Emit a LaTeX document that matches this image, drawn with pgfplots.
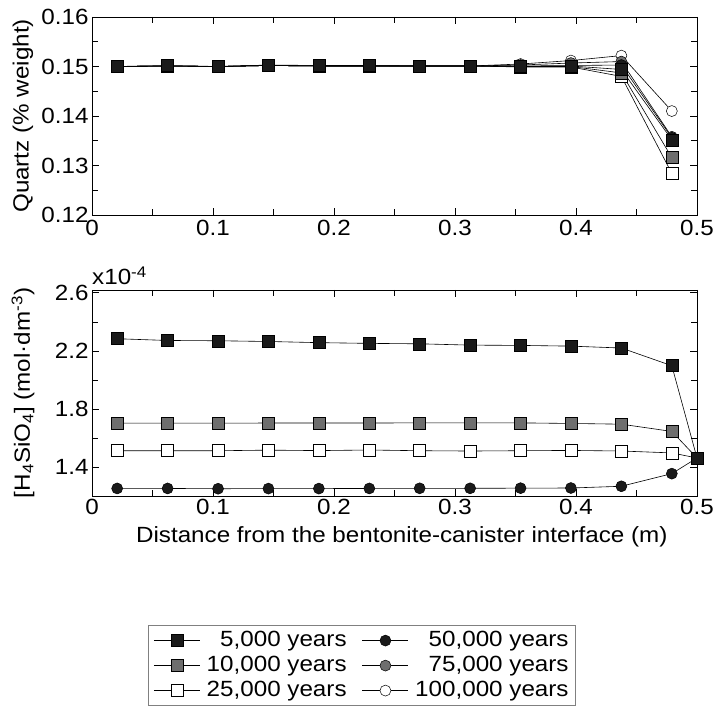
\documentclass[border=0pt]{standalone}
\usepackage{fontspec}
\setmainfont{Liberation Sans}[FakeStretch=1.1]
\usepackage{pgfplots}
\pgfplotsset{compat=1.18}
\usepackage{pgfplotstable}

\definecolor{mkblack}{HTML}{1A1A1A}
\definecolor{mkgray}{HTML}{6E6E6E}
\definecolor{legframe}{HTML}{808080}

\pgfplotstableread{
x      q5     q10    q25    q50    q75    q100
0.0208 0.1500 0.1500 0.1500 0.1500 0.1500 0.1500
0.0625 0.1502 0.1501 0.1501 0.1501 0.1501 0.1501
0.1042 0.1500 0.1500 0.1500 0.1500 0.1500 0.1500
0.1458 0.1503 0.1502 0.1502 0.1502 0.1502 0.1502
0.1875 0.1502 0.1501 0.1501 0.1501 0.1501 0.1501
0.2292 0.1502 0.1501 0.1501 0.1501 0.1501 0.1501
0.2708 0.1501 0.1501 0.1501 0.1501 0.1501 0.1501
0.3125 0.1501 0.1501 0.1501 0.1501 0.1501 0.1501
0.3542 0.1500 0.1500 0.1499 0.1501 0.1503 0.1505
0.3958 0.1501 0.1500 0.1499 0.1502 0.1507 0.1512
0.4375 0.1494 0.1487 0.1480 0.1503 0.1510 0.1522
0.4792 0.1352 0.1316 0.1284 0.1356 0.1358 0.1410
}\quartz

\pgfplotstableread{
x      h5    h10   h25   h50
0.0208 2.284 1.702 1.512 1.252
0.0625 2.272 1.702 1.512 1.252
0.1042 2.270 1.702 1.512 1.250
0.1458 2.265 1.703 1.516 1.251
0.1875 2.257 1.703 1.513 1.251
0.2292 2.252 1.703 1.517 1.252
0.2708 2.249 1.704 1.512 1.253
0.3125 2.240 1.704 1.510 1.253
0.3542 2.238 1.704 1.512 1.254
0.3958 2.233 1.700 1.514 1.255
0.4375 2.220 1.695 1.510 1.267
0.4792 2.098 1.645 1.497 1.354
0.5000 1.462 1.462 1.462 1.462
}\hsio

\tikzset{
  s5/.style={black, line width=0.6pt, mark=square*, mark size=6pt, mark options={fill=mkblack, draw=black, line width=0.5pt, solid}},
  s10/.style={black, line width=0.6pt, mark=square*, mark size=6pt, mark options={fill=mkgray, draw=black, line width=0.5pt, solid}},
  s25/.style={black, line width=0.6pt, mark=square*, mark size=6pt, mark options={fill=white, draw=black, line width=0.5pt, solid}},
  s50/.style={black, line width=0.6pt, mark=*, mark size=5.5pt, mark options={fill=mkblack, draw=black, line width=0.5pt, solid}},
  s75/.style={black, line width=0.6pt, mark=*, mark size=5.5pt, mark options={fill=mkgray, draw=black, line width=0.5pt, solid}},
  s100/.style={black, line width=0.6pt, mark=*, mark size=5.5pt, mark options={fill=white, draw=black, line width=0.5pt, solid}},
}

\pgfplotsset{
  myaxis/.style={
    scale only axis, width=605pt, anchor=south west,
    xmin=0, xmax=0.5,
    xtick={0,0.1,0.2,0.3,0.4,0.5},
    xticklabels={0,0.1,0.2,0.3,0.4,0.5},
    minor x tick num=1, minor y tick num=1,
    tick align=inside,
    major tick length=7pt, minor tick length=6pt,
    axis line style={line width=0.9pt},
    tick style={line width=0.8pt, black},
    clip=false,
    font=\fontsize{22}{26}\selectfont,
    tick label style={font=\fontsize{22}{26}\selectfont},
    label style={font=\fontsize{22}{26}\selectfont},
    /pgf/number format/assume math mode=true,
    ylabel style={at={(axis description cs:-0.114,0.5)}, anchor=center},
  }
}

\begin{document}
\begin{tikzpicture}
\useasboundingbox (0,0) rectangle (716pt,714pt);

% top axis
\begin{axis}[myaxis,
  at={(92pt,499pt)}, height=198pt,
  ymin=0.12, ymax=0.16,
  ytick={0.12,0.13,0.14,0.15,0.16},
  yticklabels={0.12,0.13,0.14,0.15,0.16},
  xticklabel style={yshift=-2pt},
  ylabel={Quartz (\% weight)},
  legend columns=2,
  legend cell align=right,
  legend image code/.code={\draw[mark repeat=2,mark phase=2,#1] plot coordinates {(0pt,0pt) (23pt,0pt) (46pt,0pt)};},
  legend style={at={(axis description cs:0.0926,-2.0707)}, anchor=north west,
    draw=legframe, line width=1.2pt, inner xsep=5pt, inner ysep=3pt,
    font=\fontsize{22}{26}\selectfont,
    nodes={inner sep=1.5pt, text height=16pt, text depth=5pt},
    column sep=5pt, row sep=1pt,
    /tikz/column 2/.style={column sep=14pt}},
]
\addplot[s100, forget plot] table[x=x, y=q100] {\quartz};
\addplot[s75, forget plot] table[x=x, y=q75] {\quartz};
\addplot[s50, forget plot] table[x=x, y=q50] {\quartz};
\addplot[s25, forget plot] table[x=x, y=q25] {\quartz};
\addplot[s10, forget plot] table[x=x, y=q10] {\quartz};
\addplot[s5, forget plot] table[x=x, y=q5] {\quartz};

\addlegendimage{s5}\addlegendentry{5,000 years}
\addlegendimage{s50}\addlegendentry{50,000 years}
\addlegendimage{s10}\addlegendentry{10,000 years}
\addlegendimage{s75}\addlegendentry{75,000 years}
\addlegendimage{s25}\addlegendentry{25,000 years}
\addlegendimage{s100}\addlegendentry{100,000 years}
\end{axis}

% bottom axis
\begin{axis}[myaxis,
  at={(92pt,218pt)}, height=206pt,
  ymin=1.2, ymax=2.62,
  ytick={1.4,1.8,2.2,2.6},
  yticklabels={1.4,1.8,2.2,2.6},
  ylabel={[H\textsubscript{4}SiO\textsubscript{4}] (mol·dm\textsuperscript{-3})},
  xlabel={Distance from the bentonite-canister interface (m)},
  xlabel style={at={(axis description cs:0.512,-0.199)}, anchor=center},
]
\addplot[s50] table[x=x, y=h50] {\hsio};
\addplot[s25] table[x=x, y=h25] {\hsio};
\addplot[s10] table[x=x, y=h10] {\hsio};
\addplot[s5] table[x=x, y=h5] {\hsio};
\node[anchor=south west, inner sep=0pt, yshift=5pt, font=\fontsize{22}{26}\selectfont] at (rel axis cs:0,1) {x10\textsuperscript{-4}};
\end{axis}
\end{tikzpicture}
\end{document}
